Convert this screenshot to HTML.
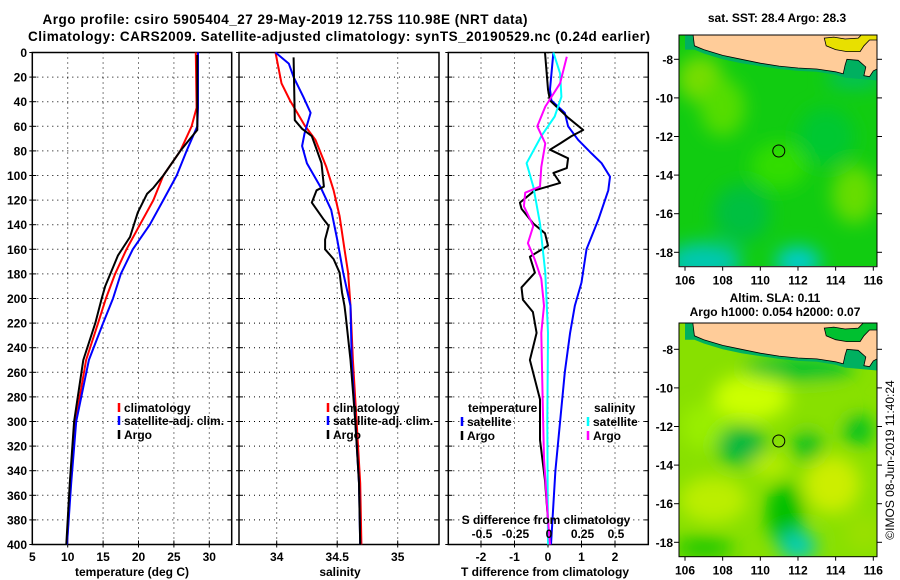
<!DOCTYPE html>
<html><head><meta charset="utf-8"><style>
html,body{margin:0;padding:0;background:#fff;}
svg{display:block;font-family:"Liberation Sans",Arial,sans-serif;font-weight:bold;}
</style></head><body>
<svg id="fig" width="900" height="580" viewBox="0 0 900 580" xmlns="http://www.w3.org/2000/svg">
<defs>
<filter id="blur1" x="-20%" y="-20%" width="140%" height="140%"><feGaussianBlur stdDeviation="9"/></filter>
<clipPath id="clipM1"><rect x="679" y="35" width="198" height="231"/></clipPath>
<clipPath id="clipM2"><rect x="679" y="323" width="198" height="234"/></clipPath>
</defs>
<text x="285" y="24" font-size="13.5" text-anchor="middle" textLength="485">Argo profile: csiro 5905404_27 29-May-2019 12.75S 110.98E (NRT data)</text>
<text x="339" y="41" font-size="13.5" text-anchor="middle" textLength="622">Climatology: CARS2009. Satellite-adjusted climatology: synTS_20190529.nc (0.24d earlier)</text>
<g id="plots"></g>
<g id="maps"></g>
<text transform="translate(894,460) rotate(-90)" font-size="12" font-weight="normal" text-anchor="middle">©IMOS 08-Jun-2019 11:40:24</text>
</svg>
<script>
// ---- data ----
const depthTicks = [0,20,40,60,80,100,120,140,160,180,200,220,240,260,280,300,320,340,360,380,400];
const tempTicks = [5,10,15,20,25,30];
const salTicks = [34,34.5,35];
const salTickLabels = ["34","34.5","35"];
const dTTicks = [-2,-1,0,1,2];
const dSTicks = [-0.5,-0.25,0,0.25,0.5];
const dSTickLabels = ["-0.5","-0.25","0","0.25","0.5"];

const depthClimT = [0,45,60,80,100,120,140,160,180,200,220,250,300,350,400];
const tempClim = [28.1,28.2,27.5,25.9,23.5,22.1,20.2,18.3,16.7,15.4,14.3,12.6,11.1,10.4,9.9];
const tempSat = [28.4,28.4,28.3,26.8,25.4,23.5,21.6,19.2,17.5,16.4,15.0,13.0,11.2,10.5,9.9];
const depthArgoT = [2,63,70,80,100,110,115,130,150,165,190,200,220,250,300,350,400];
const tempArgo = [28.3,28.3,27.3,25.9,23.5,22.1,21.2,19.9,18.8,17.1,15.3,14.8,13.9,12.2,10.9,10.3,9.8];

const depthClimS = [0,25,39,59,71,93,112,133,160,179,206,250,300,350,400];
const salClim = [33.99,34.04,34.11,34.23,34.32,34.41,34.47,34.52,34.56,34.59,34.61,34.63,34.66,34.69,34.70];
const depthSatS = [0,9,20,36,49,66,76,90,109,128,152,179,206,250,300,350,400];
const salSat = [33.99,34.10,34.14,34.22,34.28,34.23,34.21,34.25,34.36,34.45,34.50,34.55,34.61,34.62,34.65,34.68,34.69];
const depthArgoS = [4,55,62,68,76,90,109,112,122,136,141,152,160,168,179,195,206,214,250,300,350,400];
const salArgo = [34.14,34.15,34.21,34.29,34.32,34.37,34.39,34.33,34.29,34.39,34.43,34.40,34.40,34.47,34.52,34.54,34.56,34.57,34.61,34.65,34.68,34.69];

const depthDTSat = [0,30,39,49,60,71,82,90,101,112,136,160,187,206,228,260,300,340,400];
const dTSat = [0.16,0.06,0.1,0.5,0.6,0.9,1.3,1.6,1.85,1.8,1.5,1.15,1.0,0.8,0.66,0.5,0.36,0.22,0.09];
const depthDTArgo = [0,30,39,53,63,68,74,79,86,94,98,106,112,122,127,139,147,157,166,179,191,201,211,228,250,282,315,348,380,400];
const dTArgo = [-0.09,0,0.06,0.6,1.05,0.7,0.36,0.06,0.6,0.56,0.16,0.36,-0.39,-0.84,-0.79,-0.44,-0.09,0,-0.54,-0.39,-0.79,-0.75,-0.45,-0.34,-0.54,-0.24,-0.24,-0.09,0,0.03];
const depthDSSat = [0,17,36,52,68,90,109,139,179,228,300,400];
const dSSat = [0.04,0.09,0.1,0.05,-0.05,-0.16,-0.11,-0.06,-0.02,0,-0.005,0.0];
const depthDSArgo = [3.5,25,44,60,74,93,109,114,125,141,155,168,184,206,228,280,330,380,400];
const dSArgo = [0.14,0.09,-0.02,-0.08,-0.02,-0.05,-0.06,-0.17,-0.18,-0.11,-0.15,-0.1,-0.05,-0.03,-0.05,-0.04,-0.03,0.0,0.015];

const latTicks = [-8,-10,-12,-14,-16,-18];
const lonTicks = [106,108,110,112,114,116];
const argoLon = 110.98, argoLat = -12.75;

// ---- helpers ----
const NS = "http://www.w3.org/2000/svg";
function mk(tag, attrs, parent){const e=document.createElementNS(NS,tag);for(const k in attrs)e.setAttribute(k,attrs[k]);parent.appendChild(e);return e;}
const plots = document.getElementById('plots');
const yTop = 52.5, yBot = 544.5;
function yD(d){return yTop + d*(yBot-yTop)/400;}
function lin(d0,d1,r0,r1){return v=>r0+(v-d0)*(r1-r0)/(d1-d0);}

function panel(x0,x1,name,gridX,xs){
  const g = mk('g',{},plots);
  
  
  depthTicks.forEach(d=>{
    if(d>0&&d<400){
      const l=mk('line',{x1:x0,x2:x1,y1:yD(d),y2:yD(d),stroke:'#000','stroke-width':1,'stroke-dasharray':'1,4'},g);
      
      
    }
    mk('line',{x1:x0-3,x2:x0+4,y1:yD(d),y2:yD(d),stroke:'#000','stroke-width':1},g);
    mk('line',{x1:x1-4,x2:x1,y1:yD(d),y2:yD(d),stroke:'#000','stroke-width':1},g);
  });
  gridX.forEach(v=>{
    const x=xs(v);
    const l=mk('line',{x1:x,x2:x,y1:yTop,y2:yBot,stroke:'#000','stroke-width':1,'stroke-dasharray':'1,4'},g);
    
    
    mk('line',{x1:x,x2:x,y1:yBot-4,y2:yBot+3,stroke:'#000','stroke-width':1},g);
  });
  const r=mk('rect',{x:x0,y:yTop,width:x1-x0,height:yBot-yTop,fill:'none',stroke:'#000','stroke-width':1.5},g);
  
  
  return g;
}
function series(g,depths,vals,xs,color,name){
  const pts = vals.map((v,i)=>xs(v).toFixed(1)+','+yD(depths[i]).toFixed(1)).join(' ');
  const p = mk('polyline',{points:pts,fill:'none',stroke:color,'stroke-width':2,'stroke-linejoin':'round'},g);
  
  
}
function txt(g,x,y,s,size,anchor,name,color){
  const t=mk('text',{x:x,y:y,'font-size':size,'text-anchor':anchor||'start',fill:color||'#000'},g);
  t.textContent=s;
  
  
  return t;
}
function legendEntry(g,x,y,color,label){
  const e = mk('g',{},g);
  
  
  mk('line',{x1:x,x2:x,y1:y-9,y2:y,stroke:color,'stroke-width':2.5},e);
  txt(e,x+5,y,label,12,'start','legend-label');
}

// y-axis labels
const yl = mk('g',{},plots);


depthTicks.forEach(d=>txt(yl,27,yD(d)+4.5,String(d),12,'end','depth-tick-label'));

// Panel 1: temperature
const xT = lin(5,30,32.3,209.3);
const g1 = panel(32.3,231.7,'temperature-panel',[10,15,20,25,30],xT);
series(g1,depthClimT,tempClim,xT,'#ff0000','climatology-temperature-line');
series(g1,depthClimT,tempSat,xT,'#0000ff','satellite-temperature-line');
series(g1,depthArgoT,tempArgo,xT,'#000000','argo-temperature-line');
tempTicks.forEach(v=>txt(g1,xT(v),561,String(v),12,'middle','temperature-tick-label'));
txt(g1,132,576,'temperature (deg C)',12,'middle','temperature-axis-title');
legendEntry(g1,119,412,'#ff0000','climatology');
legendEntry(g1,119,425,'#0000ff','satellite-adj. clim.');
legendEntry(g1,119,439,'#000000','Argo');

// Panel 2: salinity
const xS = lin(34,35,276.7,397.7);
const g2 = panel(239,439,'salinity-panel',[34,34.5,35],xS);
series(g2,depthClimS,salClim,xS,'#ff0000','climatology-salinity-line');
series(g2,depthSatS,salSat,xS,'#0000ff','satellite-salinity-line');
series(g2,depthArgoS,salArgo,xS,'#000000','argo-salinity-line');
salTicks.forEach((v,i)=>txt(g2,xS(v),561,salTickLabels[i],12,'middle','salinity-tick-label'));
txt(g2,340,576,'salinity',12,'middle','salinity-axis-title');
legendEntry(g2,328,412,'#ff0000','climatology');
legendEntry(g2,328,425,'#0000ff','satellite-adj. clim.');
legendEntry(g2,328,439,'#000000','Argo');

// Panel 3: differences
const xdT = lin(-2,2,481,615);
const xdS = lin(-0.5,0.5,481,615);
const g3 = panel(448.3,648.3,'difference-panel',[-2,-1,0,1,2],xdT);
series(g3,depthDTSat,dTSat,xdT,'#0000ff','satellite-temperature-difference-line');
series(g3,depthDTArgo,dTArgo,xdT,'#000000','argo-temperature-difference-line');
series(g3,depthDSSat,dSSat,xdS,'#00ffff','satellite-salinity-difference-line');
series(g3,depthDSArgo,dSArgo,xdS,'#ff00ff','argo-salinity-difference-line');
dTTicks.forEach(v=>txt(g3,xdT(v),561,String(v),12,'middle','t-difference-tick-label'));
dSTicks.forEach((v,i)=>txt(g3,xdS(v)+1,538,dSTickLabels[i],12,'middle','s-difference-tick-label'));
txt(g3,546,524,'S difference from climatology',12,'middle','s-difference-axis-title');
txt(g3,545,576,'T difference from climatology',12,'middle','t-difference-axis-title');
txt(g3,468,412,'temperature',12,'start','legend-title-temperature');
legendEntry(g3,462,426,'#0000ff','satellite');
legendEntry(g3,462,440,'#000000','Argo');
txt(g3,594,412,'salinity',12,'start','legend-title-salinity');
legendEntry(g3,588,426,'#00ffff','satellite');
legendEntry(g3,588,440,'#ff00ff','Argo');

// ---- maps ----
const maps = document.getElementById('maps');
function map(y0,y1,latY8,latY18,clip,name,blobs,base,seaPatch){
  const g = mk('g',{},maps);
  
  
  const lonX = lin(106,116,685,873.3);
  const latY = lin(-8,-18,latY8,latY18);
  const f = mk('g',{'clip-path':'url(#'+clip+')'},g);
  mk('rect',{x:679,y:y0,width:198,height:y1-y0,fill:base},f);
  const bg = mk('g',{filter:'url(#blur1)'},f);
  blobs.forEach(b=>mk('ellipse',{cx:lonX(b[0]),cy:latY(b[1]),rx:b[2]*18.8,ry:b[3]*19.3,fill:b[4]},bg));
  const c = (lo,la)=>lonX(lo).toFixed(1)+','+latY(la).toFixed(1);
  // thin coastal strip
  mk('polygon',{points:[c(106,-6.5),c(106,-7.5),c(106.5,-7.5),c(107,-7.7),c(108,-8.0),c(109,-8.2),c(110,-8.35),c(111,-8.5),c(112,-8.6),c(113,-8.65),c(114,-8.8),c(114.5,-8.95),c(116.2,-9.1),c(116.2,-6.5)].join(' '),fill:'#00b060'},f);
  const land = mk('polygon',{points:[c(106.4,-6.5),c(106.5,-7.3),c(107,-7.5),c(108,-7.8),c(109,-8.0),c(110,-8.2),c(111,-8.35),c(112,-8.45),c(113,-8.5),c(114,-8.65),c(114.4,-8.75),c(114.5,-8.3),c(114.6,-8.0),c(115.2,-8.05),c(115.6,-8.4),c(115.5,-8.85),c(115.8,-8.9),c(116.0,-8.6),c(116.2,-8.5),c(116.2,-6.5)].join(' '),fill:'#ffcc99',stroke:'#000','stroke-width':0.8},f);
  
  
  // sea patch (Madura strait) in top right
  mk('polygon',{points:[c(113.4,-6.9),c(113.5,-7.3),c(114.0,-7.5),c(114.6,-7.6),c(115.3,-7.6),c(115.5,-7.3),c(115.8,-7.0),c(116.2,-7.0),c(116.2,-6.5),c(115.6,-6.5),c(115.2,-6.9),c(114.5,-6.95),c(113.9,-6.85)].join(' '),fill:seaPatch,stroke:'#000','stroke-width':0.8},f);
  const circ = mk('circle',{cx:lonX(argoLon),cy:latY(argoLat),r:6,fill:'none',stroke:'#000','stroke-width':1},g);
  
  
  mk('rect',{x:679,y:y0,width:198,height:y1-y0,fill:'none',stroke:'#000','stroke-width':1},g);
  latTicks.forEach(v=>{
    mk('line',{x1:674,x2:679,y1:latY(v),y2:latY(v),stroke:'#000'},g);
    mk('line',{x1:877,x2:882,y1:latY(v),y2:latY(v),stroke:'#000'},g);
    txt(g,673,latY(v)+4.5,String(v),12,'end','latitude-tick-label');
  });
  lonTicks.forEach(v=>{
    mk('line',{x1:lonX(v),x2:lonX(v),y1:y1,y2:y1+4,stroke:'#000'},g);
    txt(g,lonX(v),y1+18,String(v),12,'middle','longitude-tick-label');
  });
}
map(35,266.7,59.3,252.3,'clipM1','sst-map',[
  [106.8,-9,1.2,1.2,'#77dd00'],[108,-10.5,1.2,1.5,'#55dd00'],[111,-13.5,1.5,1.2,'#33dd00'],
  [115,-15,1.2,1.5,'#66dd00'],[113.5,-12,1.5,1.5,'#00c830'],[107,-18.5,2,1,'#00c8b0'],
  [112,-18.5,1.2,0.8,'#00cccc'],[109,-16,1.5,1.5,'#00c040'],[115,-9,1.5,0.5,'#00c060']
],'#11cc11','#e8e000');
map(323,556.7,349.3,542.3,'clipM2','sla-map',[
  [109.5,-10.5,2,1.2,'#ccff00'],[107,-12,1.2,1.2,'#99ee00'],[113,-11,1.5,1,'#88e000'],
  [109,-13,1.3,1,'#00b840'],[112.5,-13,0.8,0.8,'#00c020'],[115.2,-12.2,0.8,0.8,'#00c020'],
  [113.8,-15,1.5,1.5,'#ccee00'],[107.5,-15.8,1.8,1.2,'#bbee00'],[111.3,-16.5,1,1.6,'#00c000'],
  [112,-18.2,1,0.7,'#00ccbb'],[107,-18.3,1.6,0.6,'#22c800'],[115.5,-17.5,1,1,'#99e000'],
  [110.5,-14,1,0.6,'#bbee00'],[112,-9,3,0.6,'#00c030']
],'#88e000','#00c030');
const mt = document.getElementById('maps');
txt(mt,777,22,'sat. SST: 28.4 Argo: 28.3',12,'middle','sst-map-title');
txt(mt,775,302,'Altim. SLA: 0.11',12,'middle','sla-map-title');
txt(mt,775,316,'Argo h1000: 0.054 h2000: 0.07',12,'middle','sla-map-subtitle');
</script>
</body></html>
